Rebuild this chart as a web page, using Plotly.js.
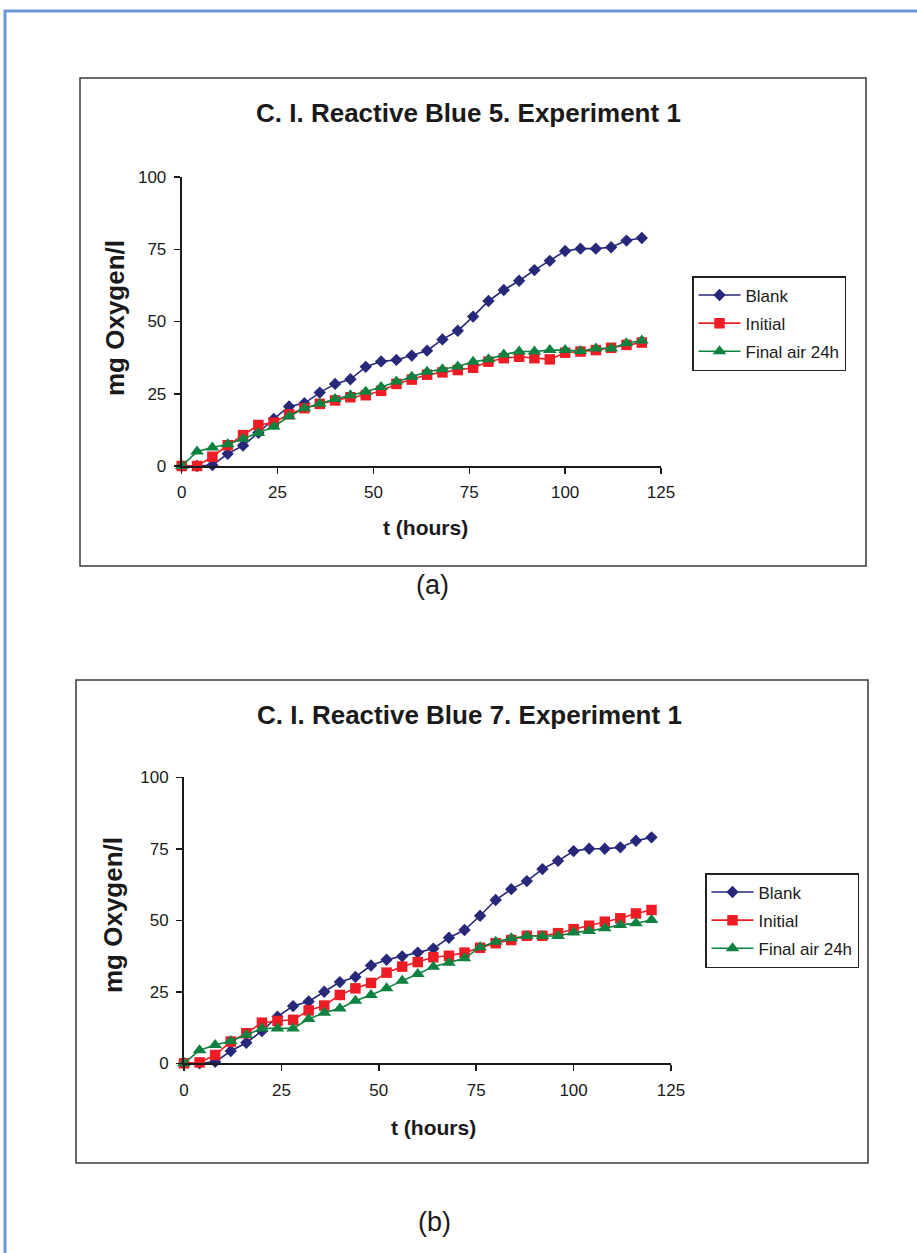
<!DOCTYPE html>
<html>
<head>
<meta charset="utf-8">
<script src="https://cdn.plot.ly/plotly-3.0.1.min.js"></script>
<style>
  html, body { margin: 0; padding: 0; background: #ffffff; }
  #fig { width: 917px; height: 1253px; }
</style>
</head>
<body>
<div id="fig"></div>
<script>
// Sampling times (hours)
const hours = [0, 4, 8, 12, 16, 20, 24, 28, 32, 36, 40, 44, 48, 52, 56, 60,
               64, 68, 72, 76, 80, 84, 88, 92, 96, 100, 104, 108, 112, 116, 120];

// C. I. Reactive Blue 5 — oxygen consumption (mg/l)
const blankRB5   = [0, 0, 0.3, 4.2, 7.1, 11.5, 16.3, 20.6, 21.7, 25.4, 28.4, 30.0, 34.3, 36.2, 36.7, 38.2,
                    39.9, 43.8, 46.8, 51.7, 57.1, 60.9, 64.1, 67.8, 71.0, 74.4, 75.2, 75.2, 75.7, 78.0, 78.9];
const initialRB5 = [0, 0, 3.2, 7.2, 10.7, 14.2, 15.0, 17.9, 20.0, 21.5, 22.7, 23.8, 24.5, 26.0, 28.4, 29.9,
                    31.6, 32.4, 33.2, 34.0, 36.1, 37.3, 37.8, 37.3, 36.9, 39.2, 39.6, 40.1, 40.9, 41.9, 42.7];
const finalRB5   = [0, 5.0, 6.4, 7.5, 9.4, 11.4, 13.6, 17.2, 20.0, 21.5, 23.2, 24.5, 25.7, 27.3, 29.2, 30.9,
                    32.6, 33.5, 34.4, 36.1, 36.9, 38.6, 39.6, 39.6, 40.1, 40.1, 39.8, 40.7, 40.7, 42.5, 43.4];

// C. I. Reactive Blue 7 — oxygen consumption (mg/l)
const blankRB7   = [0, 0, 0.5, 4.3, 7.2, 11.3, 16.3, 20.0, 21.6, 25.0, 28.4, 30.2, 34.2, 36.2, 37.4, 38.7,
                    40.1, 43.9, 46.6, 51.6, 57.1, 60.9, 63.7, 67.9, 70.8, 74.2, 75.0, 75.0, 75.5, 77.8, 79.0];
const initialRB7 = [0, 0.3, 2.9, 7.6, 10.5, 14.2, 14.8, 15.2, 18.5, 20.2, 23.9, 26.2, 28.1, 31.7, 33.8, 35.4,
                    37.1, 37.6, 38.7, 40.4, 42.0, 43.1, 44.6, 44.6, 45.5, 46.9, 48.1, 49.5, 50.7, 52.4, 53.6];
const finalRB7   = [0, 4.6, 6.4, 7.8, 9.9, 12.2, 12.2, 12.2, 15.5, 17.7, 19.2, 21.9, 23.9, 26.2, 28.9, 31.2,
                    33.8, 35.2, 36.7, 40.6, 42.5, 43.7, 44.5, 44.5, 44.5, 45.7, 46.3, 47.2, 48.4, 49.0, 50.1];

const seriesNames = ['Blank', 'Initial', 'Final air 24h'];
const chartTitles = ['C. I. Reactive Blue 5. Experiment 1', 'C. I. Reactive Blue 7. Experiment 1'];
const captions = ['(a)', '(b)'];
const xTicks = [0, 25, 50, 75, 100, 125];
const yTicks = [0, 25, 50, 75, 100];
const xTitle = 't (hours)';
const yTitle = 'mg Oxygen/l';

const W = 917, H = 1253;
const px = v => v / W;          // pixel column -> paper x
const py = v => 1 - v / H;      // pixel row -> paper y
const FONT = 'Liberation Sans, Arial, sans-serif';
const INK = '#1a1a1a';

const styles = [
  { symbol: 'diamond',     size: 9.5, color: '#28287a', line: '#28287a' },
  { symbol: 'square',      size: 10.5, color: '#ee1d25', line: '#ee1d25' },
  { symbol: 'triangle-up', size: 12,  color: '#0f8140', line: '#0f8140' }
];

function makeTraces(sets, xa, ya, legendId) {
  return sets.map((vals, i) => ({
    type: 'scatter',
    mode: 'lines+markers',
    x: hours,
    y: vals,
    xaxis: xa,
    yaxis: ya,
    name: seriesNames[i],
    legend: legendId,
    legendgroup: legendId + '-' + i,
    cliponaxis: false,
    line: { color: styles[i].line, width: 1.6 },
    marker: { symbol: styles[i].symbol, size: styles[i].size, color: styles[i].color,
              line: { width: 0 } }
  }));
}

const data = [
  ...makeTraces([blankRB5, initialRB5, finalRB5], 'x', 'y', 'legend'),
  ...makeTraces([blankRB7, initialRB7, finalRB7], 'x2', 'y2', 'legend2')
];

function xAxis(domain, anchor) {
  return {
    domain: domain, anchor: anchor, range: [0, 125], tickvals: xTicks,
    showline: true, linecolor: INK, linewidth: 2, mirror: false,
    ticks: 'outside', ticklen: 6, tickwidth: 1.5, tickcolor: INK,
    showgrid: false, zeroline: false, fixedrange: true,
    ticklabelstandoff: 4,
    tickfont: { family: FONT, size: 17, color: INK }
  };
}
function yAxis(domain, anchor) {
  return {
    domain: domain, anchor: anchor, range: [0, 100], tickvals: yTicks,
    showline: true, linecolor: INK, linewidth: 2,
    ticks: 'outside', ticklen: 6, tickwidth: 1.5, tickcolor: INK,
    showgrid: false, zeroline: false, fixedrange: true,
    ticklabelstandoff: 4,
    tickfont: { family: FONT, size: 17, color: INK }
  };
}

function legendAt(x, y) {
  return {
    x: px(x), y: py(y), xanchor: 'left', yanchor: 'top',
    bgcolor: '#ffffff', bordercolor: '#222222', borderwidth: 1.5,
    font: { family: FONT, size: 17, color: INK },
    tracegroupgap: 3, itemwidth: 42, orientation: 'v'
  };
}

function text(str, x, y, size, opts) {
  return Object.assign({
    text: str, x: px(x), y: py(y), xref: 'paper', yref: 'paper',
    xanchor: 'center', yanchor: 'middle', showarrow: false,
    font: { family: FONT, size: size, color: INK }
  }, opts || {});
}

const layout = {
  width: W, height: H,
  margin: { l: 0, r: 0, t: 0, b: 0 },
  paper_bgcolor: '#ffffff', plot_bgcolor: 'rgba(0,0,0,0)',
  showlegend: true,
  xaxis:  xAxis([px(181.7), px(661)], 'y'),
  yaxis:  yAxis([py(466), py(177)], 'x'),
  xaxis2: xAxis([px(184), px(671)], 'y2'),
  yaxis2: yAxis([py(1063.3), py(777.3)], 'x2'),
  legend:  legendAt(692, 276),
  legend2: legendAt(705, 873),
  shapes: [
    // page frame
    { type: 'rect', xref: 'paper', yref: 'paper', x0: px(5), x1: 1.1, y0: -0.1, y1: py(11),
      line: { color: '#6a9ad8', width: 3 }, fillcolor: 'rgba(0,0,0,0)', layer: 'below' },
    // chart boxes
    { type: 'rect', xref: 'paper', yref: 'paper', x0: px(80), x1: px(866), y0: py(566), y1: py(78),
      line: { color: '#3a3a3a', width: 1.5 }, fillcolor: 'rgba(0,0,0,0)', layer: 'below' },
    { type: 'rect', xref: 'paper', yref: 'paper', x0: px(76), x1: px(868), y0: py(1163), y1: py(680),
      line: { color: '#3a3a3a', width: 1.5 }, fillcolor: 'rgba(0,0,0,0)', layer: 'below' }
  ],
  annotations: [
    text('<b>' + chartTitles[0] + '</b>', 468, 113, 26),
    text('<b>' + chartTitles[1] + '</b>', 470, 715, 26),
    text('<b>' + xTitle + '</b>', 425, 527, 21),
    text('<b>' + xTitle + '</b>', 433, 1127, 21),
    text('<b>' + yTitle + '</b>', 115, 318, 26, { textangle: -90 }),
    text('<b>' + yTitle + '</b>', 113, 915, 26, { textangle: -90 }),
    text(captions[0], 432, 585, 27),
    text(captions[1], 434, 1222, 27)
  ]
};

Plotly.newPlot('fig', data, layout, { displayModeBar: false, staticPlot: true });
</script>
</body>
</html>
